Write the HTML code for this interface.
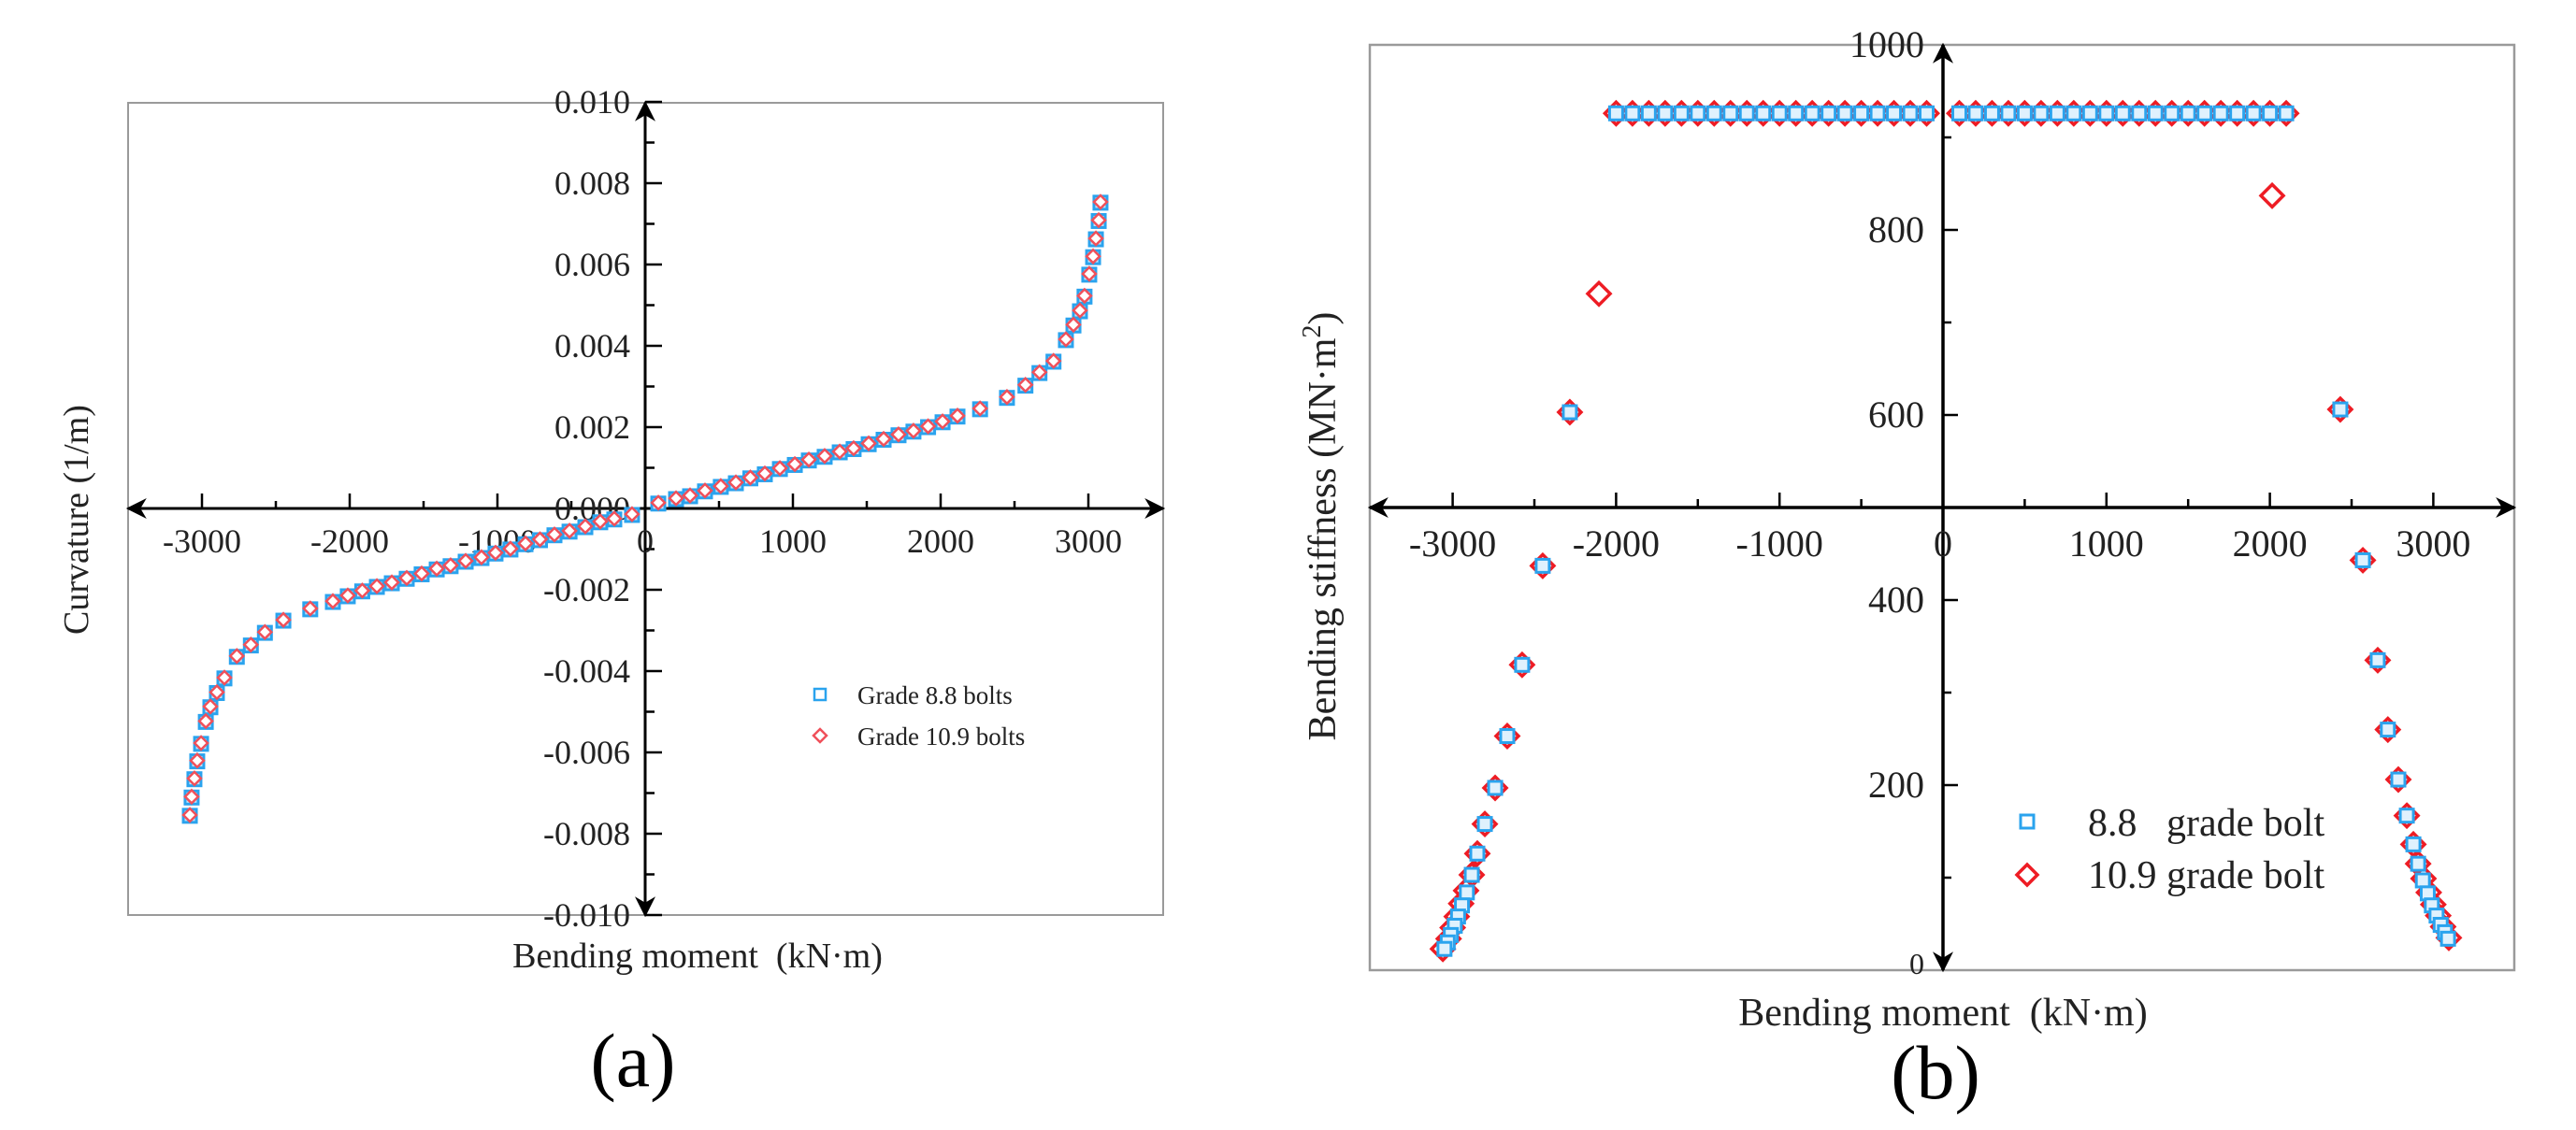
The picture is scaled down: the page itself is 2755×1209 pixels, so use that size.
<!DOCTYPE html>
<html><head><meta charset="utf-8"><style>
html,body{margin:0;padding:0;background:#fff;}
svg{display:block;font-family:"Liberation Serif",serif;}
</style></head><body>
<svg id="fig" width="2755" height="1209" viewBox="0 0 2755 1209" xmlns="http://www.w3.org/2000/svg">
<defs>
<marker id="ar" viewBox="0 0 10 10" refX="9" refY="5" markerWidth="24" markerHeight="22" orient="auto-start-reverse" markerUnits="userSpaceOnUse"><path d="M0,0 L10,5 L0,10 L3,5 z" fill="#000"/></marker>
</defs>
<g id="chartA"></g>
<g id="chartB"></g>
<text x="677" y="1162" font-size="82" text-anchor="middle">(a)</text>
<text x="2070" y="1175" font-size="82" text-anchor="middle">(b)</text>
</svg>
<script>
// ---- Chart A data ----
const aMoment = [89,209,304,405,512,614,712,810,912,1013,1108,1215,1317,1411,1513,1614,1715,1816,1915,2013,2114,2267,2449,2574,2669,2764,2848,2899,2943,2974,3006,3032,3051,3070,3082,
 -89,-209,-304,-405,-512,-614,-712,-810,-912,-1013,-1108,-1215,-1317,-1411,-1513,-1614,-1715,-1816,-1915,-2013,-2114,-2267,-2449,-2574,-2669,-2764,-2848,-2899,-2943,-2974,-3006,-3032,-3051,-3070,-3082];
const aCurv88 = [0.00012,0.00023,0.0003,0.00042,0.00053,0.00062,0.00074,0.00084,0.00097,0.00107,0.00118,0.00127,0.00138,0.00146,0.00158,0.00169,0.0018,0.00189,0.002,0.00212,0.00226,0.00244,0.00272,0.00302,0.00333,0.00361,0.00414,0.0045,0.00485,0.00521,0.00575,0.00618,0.00662,0.00707,0.00752,
 -0.00016,-0.00027,-0.00034,-0.00046,-0.00057,-0.00066,-0.00078,-0.00088,-0.00101,-0.00111,-0.00122,-0.00131,-0.00142,-0.0015,-0.00162,-0.00173,-0.00184,-0.00193,-0.00204,-0.00216,-0.0023,-0.00248,-0.00276,-0.00306,-0.00337,-0.00365,-0.00418,-0.00454,-0.00489,-0.00525,-0.00579,-0.00622,-0.00666,-0.00711,-0.00756];
const aCurv109 = [0.00014,0.00025,0.00032,0.00044,0.00055,0.00064,0.00076,0.00086,0.00099,0.00109,0.0012,0.00129,0.0014,0.00148,0.0016,0.00171,0.00182,0.00191,0.00202,0.00214,0.00228,0.00246,0.00274,0.00304,0.00335,0.00363,0.00416,0.00452,0.00487,0.00523,0.00577,0.0062,0.00664,0.00709,0.00754,
 -0.00014,-0.00025,-0.00032,-0.00044,-0.00055,-0.00064,-0.00076,-0.00086,-0.00099,-0.00109,-0.0012,-0.00129,-0.0014,-0.00148,-0.0016,-0.00171,-0.00182,-0.00191,-0.00202,-0.00214,-0.00228,-0.00246,-0.00274,-0.00304,-0.00335,-0.00363,-0.00416,-0.00452,-0.00487,-0.00523,-0.00577,-0.0062,-0.00664,-0.00709,-0.00754];
const aXTicks = [-3000,-2000,-1000,0,1000,2000,3000];
const aYTicks = ["0.010","0.008","0.006","0.004","0.002","0.000","-0.002","-0.004","-0.006","-0.008","-0.010"];

// ---- Chart B data ----
const bMoment88 = [-2000,-1900,-1800,-1700,-1600,-1500,-1400,-1300,-1200,-1100,-1000,-900,-800,-700,-600,-500,-400,-300,-200,-100,
 100,200,300,400,500,600,700,800,900,1000,1100,1200,1300,1400,1500,1600,1700,1800,1900,2000,2100,
 -2283,-2449,-2575,-2666,-2740,-2803,-2849,-2883,-2913,-2943,-2967,-2987,-3011,-3030,-3050,
 2431,2569,2660,2722,2786,2838,2878,2907,2936,2966,2991,3020,3045,3071,3090];
const bStiff88 = [926,926,926,926,926,926,926,926,926,926,926,926,926,926,926,926,926,926,926,926,
 926,926,926,926,926,926,926,926,926,926,926,926,926,926,926,926,926,926,926,926,926,
 603,437,330,253,197,158,126,103,84,70,58,48,38,30,23,
 606,443,335,260,206,167,136,115,97,83,70,59,49,41,34];
const bMoment109 = [-2000,-1900,-1800,-1700,-1600,-1500,-1400,-1300,-1200,-1100,-1000,-900,-800,-700,-600,-500,-400,-300,-200,-100,
 100,200,300,400,500,600,700,800,900,1000,1100,1200,1300,1400,1500,1600,1700,1800,1900,2000,2100,
 -2105,-2283,-2449,-2575,-2666,-2740,-2803,-2849,-2883,-2918,-2948,-2975,-3000,-3025,-3060,
 2014,2431,2569,2660,2722,2786,2838,2878,2907,2940,2972,3000,3030,3060,3095];
const bStiff109 = [926,926,926,926,926,926,926,926,926,926,926,926,926,926,926,926,926,926,926,926,
 926,926,926,926,926,926,926,926,926,926,926,926,926,926,926,926,926,926,926,926,926,
 731,603,437,330,253,197,158,126,103,86,72,58,46,34,23,
 837,606,443,335,260,206,167,136,115,99,84,71,59,47,35];
const bXTicks = [-3000,-2000,-1000,0,1000,2000,3000];
const bYTicks = [0,200,400,600,800,1000];

const NS = "http://www.w3.org/2000/svg";
function mk(parent, tag, attrs){ const e=document.createElementNS(NS,tag); for(const k in attrs) e.setAttribute(k,attrs[k]); parent.appendChild(e); return e; }

// ===== Chart A =====
(function(){
  const g=document.getElementById('chartA');
  const L=137,R=1244,T=110,B=979, X0=690, PX=0.158, Y0=544, PY=87/0.002;
  const sx=v=>X0+v*PX, sy=v=>Y0-v*PY;
  let e=mk(g,'rect',{x:L,y:T,width:R-L,height:B-T,fill:'none',stroke:'#9a9a9a','stroke-width':2});
   
  e=mk(g,'line',{x1:R,y1:Y0,x2:L,y2:Y0,stroke:'#000','stroke-width':3,'marker-start':'url(#ar)','marker-end':'url(#ar)'});
   
  e=mk(g,'line',{x1:X0,y1:B,x2:X0,y2:T,stroke:'#000','stroke-width':3,'marker-start':'url(#ar)','marker-end':'url(#ar)'});
   
  for(let v=-3000;v<=3000;v+=500){ if(v===0) continue; const maj=v%1000===0;
    e=mk(g,'line',{x1:sx(v),y1:Y0,x2:sx(v),y2:Y0-(maj?16:8),stroke:'#000','stroke-width':2.5});
      }
  for(let i=-10;i<=10;i++){ if(i===0) continue; const v=i*0.001; const maj=i%2===0;
    e=mk(g,'line',{x1:X0,y1:sy(v),x2:X0+(maj?18:10),y2:sy(v),stroke:'#000','stroke-width':2.5});
      }
  aXTicks.forEach(v=>{ e=mk(g,'text',{x:sx(v),y:Y0+47,'font-size':36,'text-anchor':'middle',fill:'#222'}); e.textContent=String(v);
      });
  aYTicks.forEach(s=>{ e=mk(g,'text',{x:X0-16,y:sy(parseFloat(s))+12,'font-size':36,'text-anchor':'end',fill:'#222'}); e.textContent=s;
      });
  const s88=mk(g,'g',{});  
  aMoment.forEach((m,i)=>{ e=mk(s88,'rect',{x:sx(m)-7,y:sy(aCurv88[i])-7,width:14,height:14,fill:'#bfe3fb',stroke:'#2aa3ee','stroke-width':3});
      });
  const s109=mk(g,'g',{});  
  aMoment.forEach((m,i)=>{ const x=sx(m),y=sy(aCurv109[i]);
    e=mk(s109,'path',{d:`M${x},${y-7}L${x+7},${y}L${x},${y+7}L${x-7},${y}Z`,fill:'#fff',stroke:'#f0505a','stroke-width':2.5});
      });
  const lg=mk(g,'g',{});  
  e=mk(lg,'rect',{x:871,y:737,width:12,height:12,fill:'none',stroke:'#2aa3ee','stroke-width':2.5});  
  e=mk(lg,'text',{x:917,y:753,'font-size':27,fill:'#222'}); e.textContent='Grade 8.8 bolts';  
  e=mk(lg,'path',{d:'M877,780L884,787L877,794L870,787Z',fill:'none',stroke:'#f0505a','stroke-width':2.5});  
  e=mk(lg,'text',{x:917,y:797,'font-size':27,fill:'#222'}); e.textContent='Grade 10.9 bolts';  
  e=mk(g,'text',{x:746,y:1035,'font-size':38,'text-anchor':'middle',fill:'#222'}); e.textContent='Bending moment\u00a0\u00a0(kN\u00b7m)';
   
  e=mk(g,'text',{x:0,y:0,'font-size':38,'text-anchor':'middle',fill:'#222',transform:'translate(94,556) rotate(-90)'}); e.textContent='Curvature (1/m)';
   
})();

// ===== Chart B =====
(function(){
  const g=document.getElementById('chartB');
  const L=1465,R=2689,T=48,B=1038, X0=2078, PX=0.1748, PY=0.99, XAXV=500;
  const sx=v=>X0+v*PX, sy=v=>B-v*PY; const YA=sy(XAXV);
  let e=mk(g,'rect',{x:L,y:T,width:R-L,height:B-T,fill:'none',stroke:'#9a9a9a','stroke-width':2.5});
   
  e=mk(g,'line',{x1:R,y1:YA,x2:L,y2:YA,stroke:'#000','stroke-width':3.5,'marker-start':'url(#ar)','marker-end':'url(#ar)'});
   
  e=mk(g,'line',{x1:X0,y1:B,x2:X0,y2:T,stroke:'#000','stroke-width':3.5,'marker-start':'url(#ar)','marker-end':'url(#ar)'});
   
  for(let v=-3000;v<=3000;v+=500){ if(v===0) continue; const maj=v%1000===0;
    e=mk(g,'line',{x1:sx(v),y1:YA,x2:sx(v),y2:YA-(maj?16:9),stroke:'#000','stroke-width':2.5});
      }
  for(let v=100;v<1000;v+=100){ if(v===500) continue; const maj=v%200===0;
    e=mk(g,'line',{x1:X0,y1:sy(v),x2:X0+(maj?16:9),y2:sy(v),stroke:'#000','stroke-width':2.5});
      }
  bXTicks.forEach(v=>{ e=mk(g,'text',{x:sx(v),y:YA+52,'font-size':40,'text-anchor':'middle',fill:'#222'}); e.textContent=String(v);
      });
  bYTicks.forEach(v=>{ e=mk(g,'text',{x:X0-20,y:sy(v)+(v===0?4:13),'font-size':v===0?32:40,'text-anchor':'end',fill:'#222'}); e.textContent=String(v);
      });
  const s109=mk(g,'g',{});  
  bMoment109.forEach((m,i)=>{ const x=sx(m),y=sy(bStiff109[i]);
    e=mk(s109,'path',{d:`M${x},${y-12}L${x+12},${y}L${x},${y+12}L${x-12},${y}Z`,fill:'#fff',stroke:'#ee1c24','stroke-width':3.5});
      });
  const s88=mk(g,'g',{});  
  bMoment88.forEach((m,i)=>{ e=mk(s88,'rect',{x:sx(m)-7,y:sy(bStiff88[i])-7,width:14,height:14,fill:'#dff1fd',stroke:'#2aa3ee','stroke-width':3});
      });
  const lg=mk(g,'g',{});  
  e=mk(lg,'rect',{x:2161,y:872,width:14,height:14,fill:'none',stroke:'#2aa3ee','stroke-width':3});  
  e=mk(lg,'text',{x:2233,y:894,'font-size':42,fill:'#222'}); e.textContent='8.8\u00a0\u00a0\u00a0grade bolt';  
  e=mk(lg,'path',{d:'M2168,925L2179,936L2168,947L2157,936Z',fill:'none',stroke:'#ee1c24','stroke-width':3.5});  
  e=mk(lg,'text',{x:2233,y:950,'font-size':42,fill:'#222'}); e.textContent='10.9 grade bolt';  
  e=mk(g,'text',{x:2078,y:1097,'font-size':42,'text-anchor':'middle',fill:'#222'}); e.textContent='Bending moment\u00a0\u00a0(kN\u00b7m)';
   
  e=mk(g,'text',{x:0,y:0,'font-size':42,'text-anchor':'middle',fill:'#222',transform:'translate(1428,563) rotate(-90)'});
   
  e.appendChild(document.createTextNode('Bending stiffness (MN\u00b7m'));
  const sup=mk(e,'tspan',{dy:-16,'font-size':28}); sup.textContent='2';
   
  const cl=mk(e,'tspan',{dy:16}); cl.textContent=')';
   
})();
</script>
</body></html>
